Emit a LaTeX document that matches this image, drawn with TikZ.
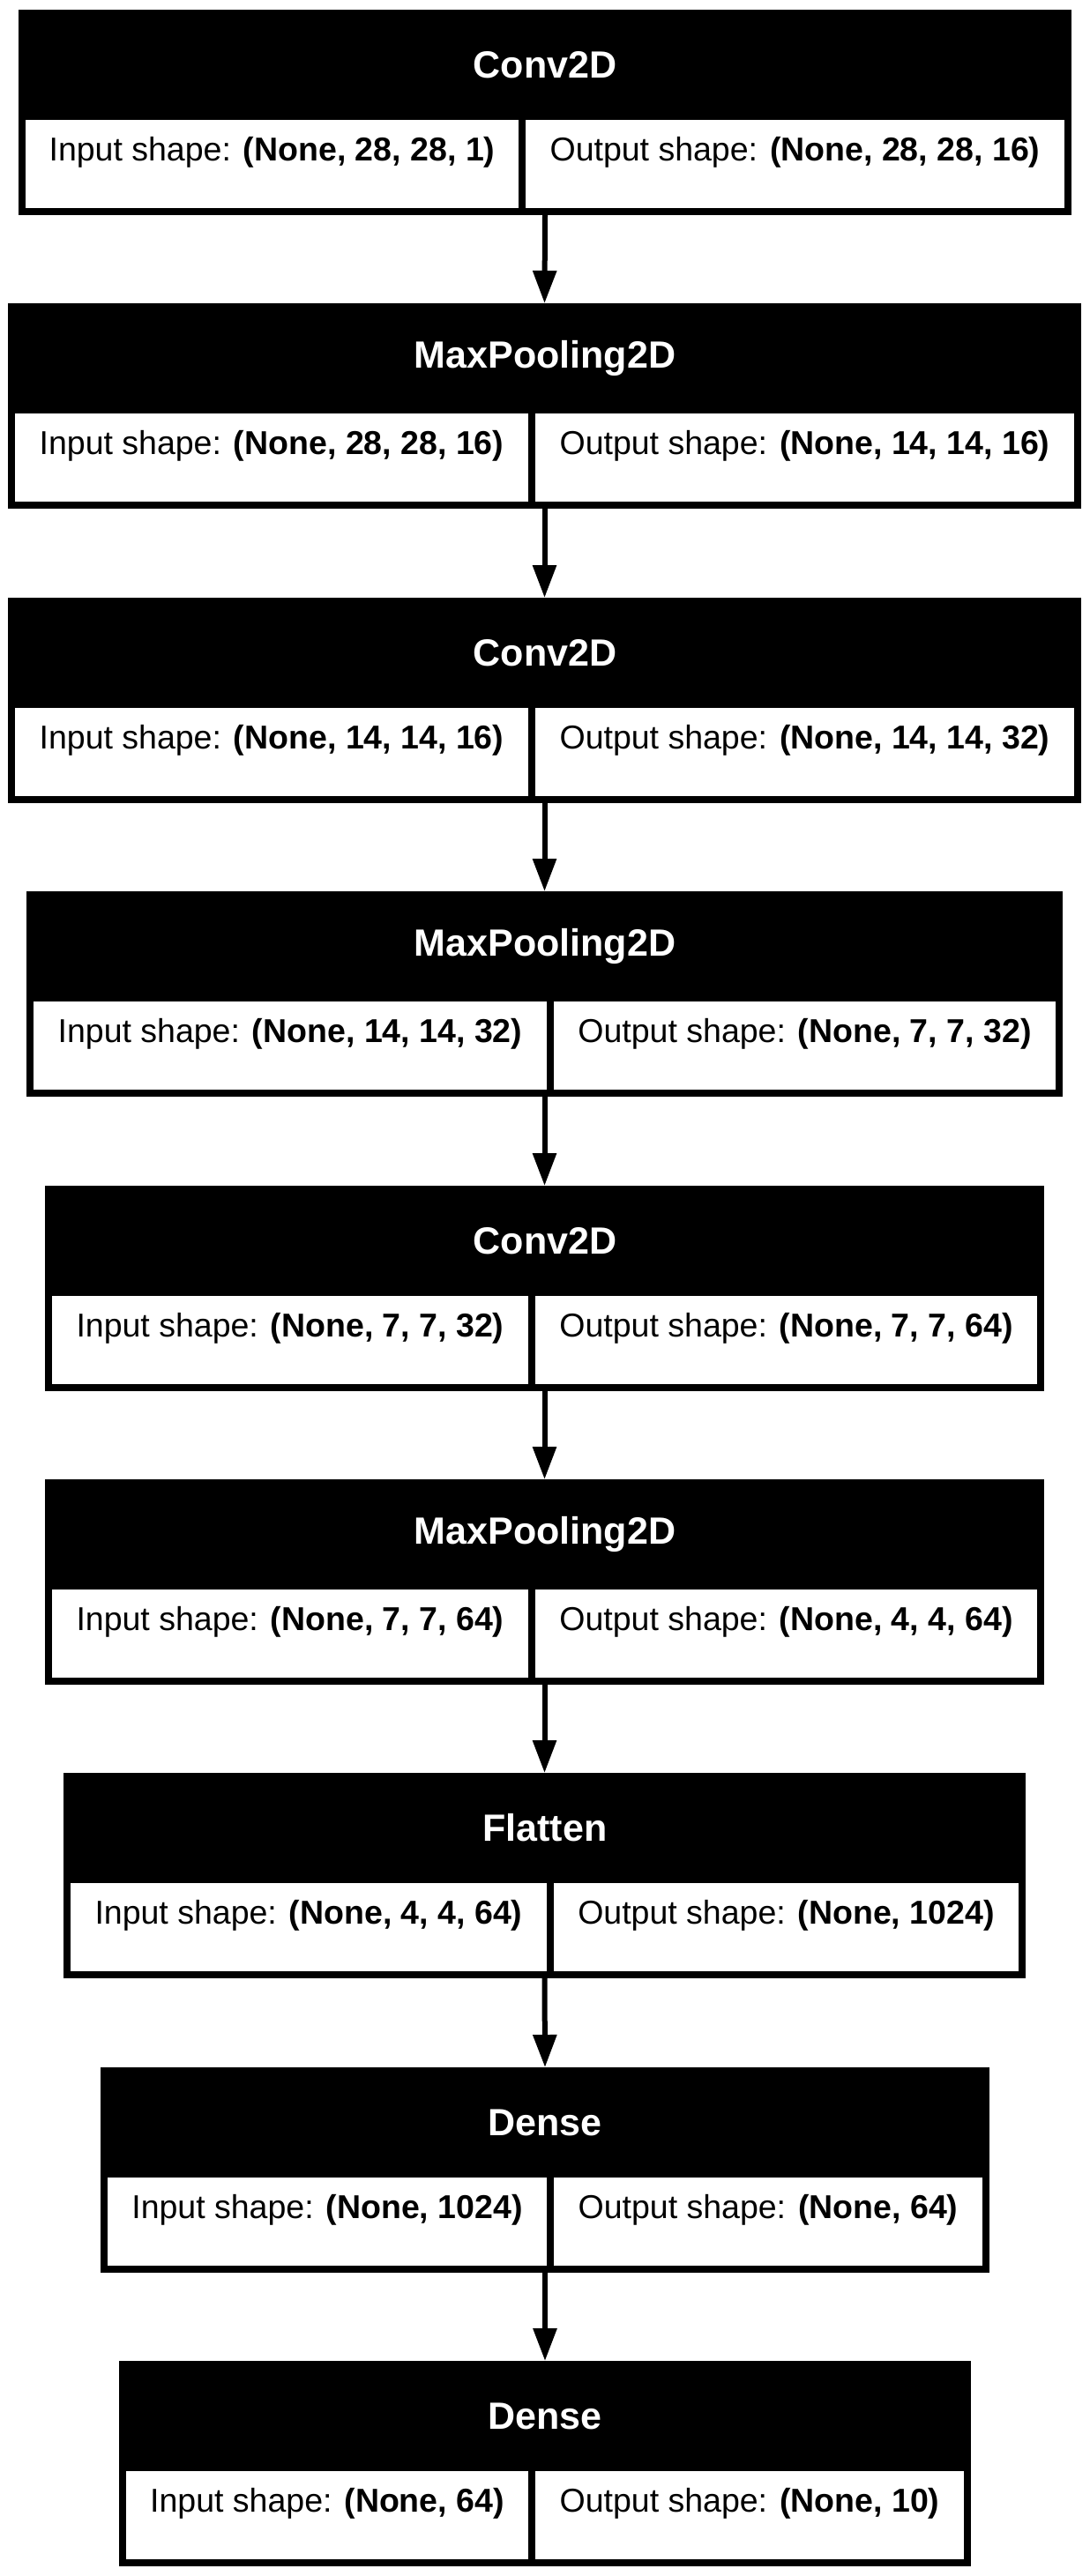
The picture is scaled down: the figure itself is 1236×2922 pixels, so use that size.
\documentclass[tikz,border=0pt]{standalone}
\usepackage{fontspec}
\setmainfont{Liberation Sans}
\usetikzlibrary{fit}
\usetikzlibrary{arrows.meta}
\tikzset{>={Triangle[length=37pt,width=26pt]}}

\begin{document}
\begin{tikzpicture}[x=1pt,y=-1pt,
    layer/.style={fill=black,draw=none,inner sep=0pt,outer sep=0pt},
    head/.style={text=white,inner sep=0pt,font=\fontsize{43}{50}\selectfont\bfseries},
    cell/.style={fill=white,draw=none,inner sep=0pt,outer sep=0pt,font=\fontsize{37.5}{44}\selectfont},
    link/.style={->,line width=6pt}]
  % 背景
  \fill[white] (0,0) rectangle (1236,2922);
  \useasboundingbox (0,0) rectangle (1236,2922);

  % 第一层 Conv2D
  \node[layer,fit={(21,11) (1215,244)}] (conv1) {};
  \node[head] (conv1-name) at (618,73.5) {Conv2D};
  \node[cell,fit={(29,136) (588,236)}] (conv1-in) {Input shape: \textbf{(None, 28, 28, 1)}};
  \node[cell,fit={(596,136) (1207,236)}] (conv1-out) {Output shape: \textbf{(None, 28, 28, 16)}};

  % 第二层 MaxPooling2D
  \node[layer,fit={(9,344) (1226,577)}] (pool1) {};
  \node[head] (pool1-name) at (618,406.5) {MaxPooling2D};
  \node[cell,fit={(17,469) (599,569)}] (pool1-in) {Input shape: \textbf{(None, 28, 28, 16)}};
  \node[cell,fit={(607,469) (1218,569)}] (pool1-out) {Output shape: \textbf{(None, 14, 14, 16)}};

  % 第三层 Conv2D
  \node[layer,fit={(9,678) (1226,911)}] (conv2) {};
  \node[head] (conv2-name) at (618,740.5) {Conv2D};
  \node[cell,fit={(17,803) (599,903)}] (conv2-in) {Input shape: \textbf{(None, 14, 14, 16)}};
  \node[cell,fit={(607,803) (1218,903)}] (conv2-out) {Output shape: \textbf{(None, 14, 14, 32)}};

  % 第四层 MaxPooling2D
  \node[layer,fit={(30,1011) (1205,1244)}] (pool2) {};
  \node[head] (pool2-name) at (618,1073.5) {MaxPooling2D};
  \node[cell,fit={(38,1136) (620,1236)}] (pool2-in) {Input shape: \textbf{(None, 14, 14, 32)}};
  \node[cell,fit={(628,1136) (1197,1236)}] (pool2-out) {Output shape: \textbf{(None, 7, 7, 32)}};

  % 第五层 Conv2D
  \node[layer,fit={(51,1345) (1184,1578)}] (conv3) {};
  \node[head] (conv3-name) at (618,1407.5) {Conv2D};
  \node[cell,fit={(59,1470) (599,1570)}] (conv3-in) {Input shape: \textbf{(None, 7, 7, 32)}};
  \node[cell,fit={(607,1470) (1176,1570)}] (conv3-out) {Output shape: \textbf{(None, 7, 7, 64)}};

  % 第六层 MaxPooling2D
  \node[layer,fit={(51,1678) (1184,1911)}] (pool3) {};
  \node[head] (pool3-name) at (618,1740.5) {MaxPooling2D};
  \node[cell,fit={(59,1803) (599,1903)}] (pool3-in) {Input shape: \textbf{(None, 7, 7, 64)}};
  \node[cell,fit={(607,1803) (1176,1903)}] (pool3-out) {Output shape: \textbf{(None, 4, 4, 64)}};

  % 第七层 Flatten
  \node[layer,fit={(72,2011) (1163,2244)}] (flat) {};
  \node[head] (flat-name) at (618,2073.5) {Flatten};
  \node[cell,fit={(80,2136) (620,2236)}] (flat-in) {Input shape: \textbf{(None, 4, 4, 64)}};
  \node[cell,fit={(628,2136) (1155,2236)}] (flat-out) {Output shape: \textbf{(None, 1024)}};

  % 第八层 Dense
  \node[layer,fit={(114,2345) (1122,2578)}] (dense1) {};
  \node[head] (dense1-name) at (618,2407.5) {Dense};
  \node[cell,fit={(122,2470) (620,2570)}] (dense1-in) {Input shape: \textbf{(None, 1024)}};
  \node[cell,fit={(628,2470) (1114,2570)}] (dense1-out) {Output shape: \textbf{(None, 64)}};

  % 第九层 Dense
  \node[layer,fit={(135,2678) (1101,2911)}] (dense2) {};
  \node[head] (dense2-name) at (618,2740.5) {Dense};
  \node[cell,fit={(143,2803) (599,2903)}] (dense2-in) {Input shape: \textbf{(None, 64)}};
  \node[cell,fit={(607,2803) (1093,2903)}] (dense2-out) {Output shape: \textbf{(None, 10)}};

  % 连线
  \draw[link] (conv1.south) -- (pool1.north);
  \draw[link] (pool1.south) -- (conv2.north);
  \draw[link] (conv2.south) -- (pool2.north);
  \draw[link] (pool2.south) -- (conv3.north);
  \draw[link] (conv3.south) -- (pool3.north);
  \draw[link] (pool3.south) -- (flat.north);
  \draw[link] (flat.south) -- (dense1.north);
  \draw[link] (dense1.south) -- (dense2.north);
\end{tikzpicture}
\end{document}
